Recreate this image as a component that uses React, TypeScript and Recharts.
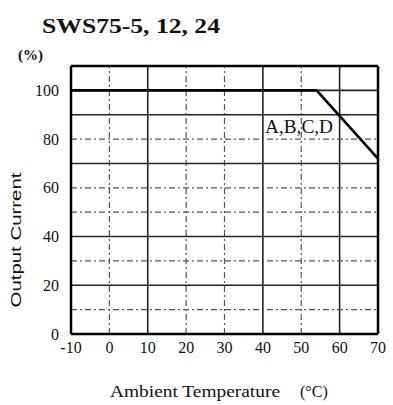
import { LineChart, Line, XAxis, YAxis, ReferenceLine } from 'recharts';

// derating curve
const temps = [-10, 54, 70];
const current = [100, 100, 72];

const xTicks = [-10, 0, 10, 20, 30, 40, 50, 60, 70];
const yTicks = [0, 20, 40, 60, 80, 100];
const xGrid = [0, 10, 20, 30, 40, 50, 60];
const yGrid = [10, 20, 30, 40, 50, 60, 70, 80, 90, 100];

// which grid lines look solid on the scan (rest are dash-dot)
const solidX = [10, 40, 60];
const solidY = [20, 40, 70, 90, 100];

const data = temps.map((t, i) => ({ t, v: current[i] }));

const serif = '"Liberation Serif", "DejaVu Serif", serif';
const sans = '"Liberation Sans", Arial, sans-serif';

const App = () => {
  return (
    <div style={{ position: 'absolute', left: 0, top: 0, width: 393, height: 405, background: '#fff' }}>
      <LineChart width={393} height={405} data={data} margin={{ top: 66, right: 15, left: 0, bottom: 41 }}>
        <XAxis
          dataKey="t"
          type="number"
          domain={[-10, 70]}
          ticks={xTicks}
          tickLine={false}
          axisLine={{ stroke: '#000', strokeWidth: 2.5 }}
          tick={{ fill: '#111', fontSize: 16, fontFamily: serif }}
          tickMargin={2}
          height={30}
          interval={0}
        />
        <YAxis
          type="number"
          domain={[0, 110]}
          ticks={yTicks}
          tickLine={false}
          axisLine={{ stroke: '#000', strokeWidth: 2.5 }}
          tick={{ fill: '#111', fontSize: 16, fontFamily: serif }}
          tickMargin={6}
          width={71}
          interval={0}
        />
        {xGrid.map((x) => (
          <ReferenceLine
            key={'x' + x}
            x={x}
            stroke={solidX.includes(x) ? '#222' : '#555'}
            strokeWidth={solidX.includes(x) ? 1.6 : 1.2}
            strokeDasharray={solidX.includes(x) ? undefined : '6 3 2 3'}
          />
        ))}
        {yGrid.map((y) => (
          <ReferenceLine
            key={'y' + y}
            y={y}
            stroke={solidY.includes(y) ? '#222' : '#555'}
            strokeWidth={solidY.includes(y) ? 1.6 : 1.2}
            strokeDasharray={solidY.includes(y) ? undefined : '6 3 2 3'}
          />
        ))}
        <ReferenceLine y={110} stroke="#000" strokeWidth={2.5} />
        <ReferenceLine x={70} stroke="#000" strokeWidth={2.5} />
        <Line
          type="linear"
          dataKey="v"
          stroke="#000"
          strokeWidth={2.6}
          dot={false}
          isAnimationActive={false}
        />
        <text x={42} y={33} fontFamily={serif} fontWeight="bold" fontSize={20} fill="#111" textLength={178} lengthAdjust="spacingAndGlyphs">
          SWS75-5, 12, 24
        </text>
        <text x={18} y={60} fontFamily={serif} fontWeight="bold" fontSize={15} fill="#111">
          (%)
        </text>
        <text x={265} y={133} fontFamily={serif} fontSize={18} fill="#111" textLength={68} lengthAdjust="spacingAndGlyphs">
          A,B,C,D
        </text>
        <text
          x={15}
          y={240}
          transform="rotate(-90 15 240)"
          textAnchor="middle"
          dominantBaseline="central"
          fontFamily={sans}
          fontSize={15}
          fill="#111"
          textLength={135}
          lengthAdjust="spacingAndGlyphs"
        >
          Output Current
        </text>
        <text x={110} y={397} fontFamily={serif} fontSize={16} fill="#111" textLength={170} lengthAdjust="spacingAndGlyphs">
          Ambient Temperature
        </text>
        <text x={300} y={397} fontFamily={serif} fontSize={16} fill="#111">
          (°C)
        </text>
      </LineChart>
    </div>
  );
};

export default App;
